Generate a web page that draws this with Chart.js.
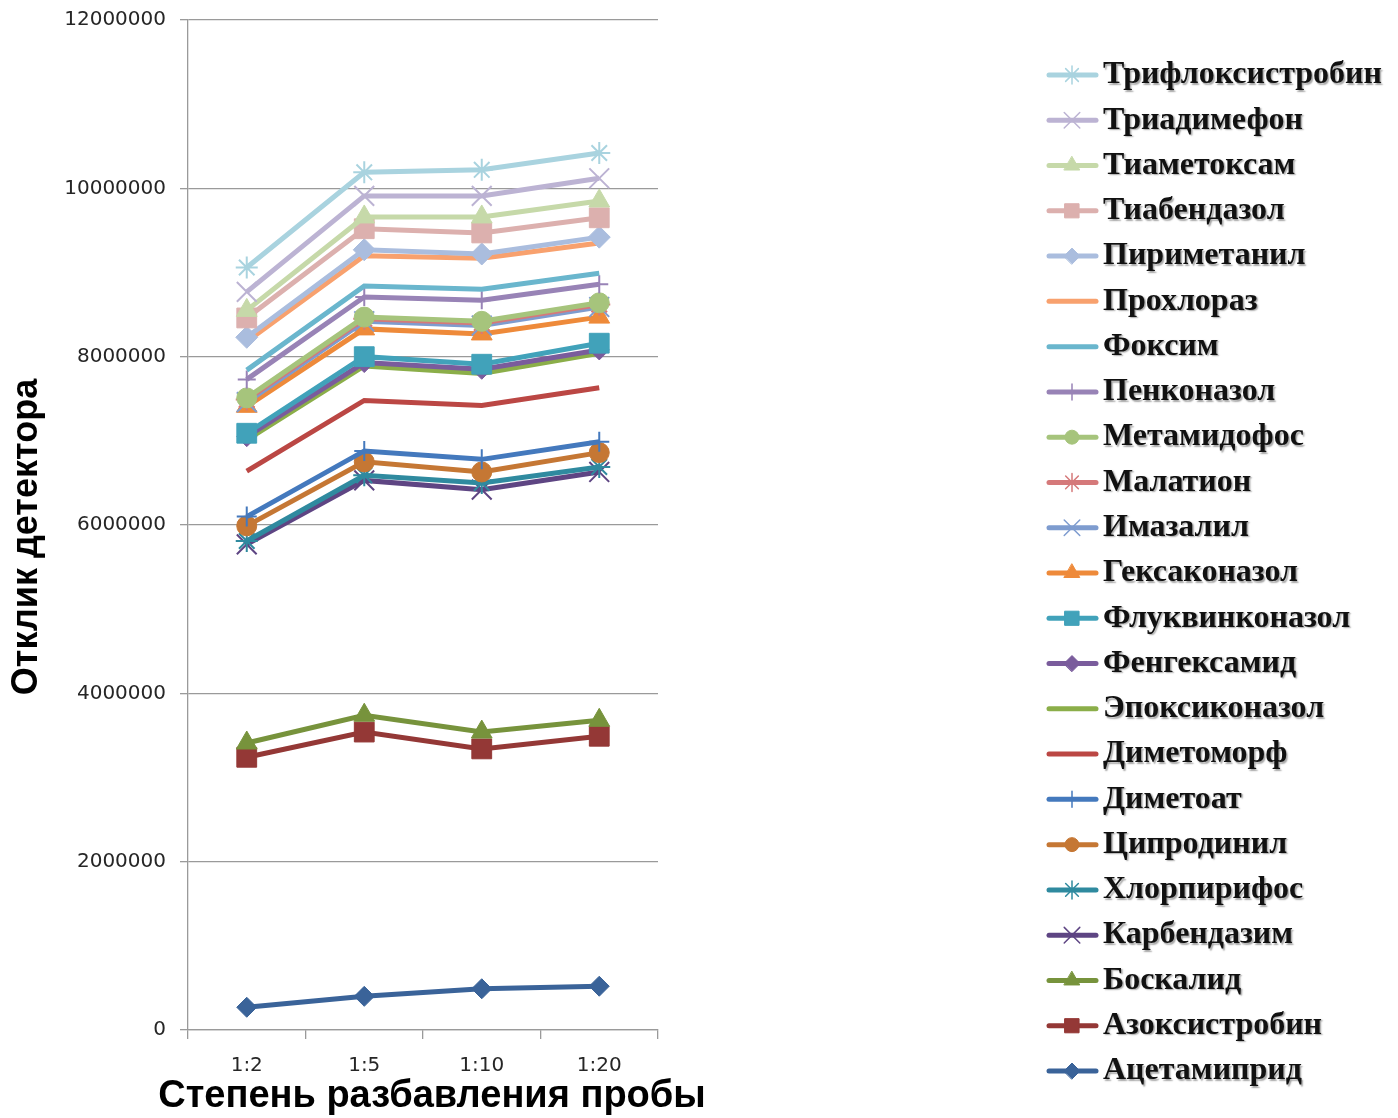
<!DOCTYPE html>
<html>
<head>
<meta charset="utf-8">
<script src="https://cdn.jsdelivr.net/npm/chart.js@4/dist/chart.umd.min.js"></script>
<style>
  html, body { margin: 0; padding: 0; background: #ffffff; }
  #wrap { width: 1398px; height: 1118px; position: relative; }
</style>
</head>
<body>
<div id="wrap"><canvas id="chart"></canvas></div>
<script>
// Dilution levels (x categories)
const dilutions = ['1:2', '1:5', '1:10', '1:20'];

// Y axis range
const yMin = 0;
const yMax = 12000000;
const yStep = 2000000;

// Detector response per compound, one value per dilution level
const trifloxystrobin = [9060000, 10190000, 10220000, 10420000];
const triadimefon     = [8770000, 9910000, 9910000, 10120000];
const thiamethoxam    = [8550000, 9660000, 9660000, 9850000];
const thiabendazole   = [8460000, 9520000, 9470000, 9650000];
const pyrimethanil    = [8230000, 9270000, 9220000, 9420000];
const prochloraz      = [8180000, 9200000, 9170000, 9350000];
const phoxim          = [7840000, 8840000, 8800000, 8990000];
const penconazole     = [7730000, 8710000, 8670000, 8860000];
const methamidophos   = [7510000, 8470000, 8420000, 8640000];
const malathion       = [7490000, 8450000, 8400000, 8620000];
const imazalil        = [7460000, 8420000, 8370000, 8590000];
const hexaconazole    = [7410000, 8330000, 8270000, 8470000];
const fluquinconazole = [7090000, 8000000, 7910000, 8160000];
const fenhexamid      = [7050000, 7930000, 7850000, 8080000];
const epoxiconazole   = [7010000, 7890000, 7800000, 8040000];
const dimethomorph    = [6640000, 7480000, 7420000, 7630000];
const dimethoate      = [6100000, 6880000, 6780000, 6990000];
const cyprodinil      = [5990000, 6750000, 6630000, 6860000];
const chlorpyrifos    = [5810000, 6590000, 6500000, 6690000];
const carbendazim     = [5770000, 6530000, 6420000, 6630000];
const boscalid        = [3410000, 3740000, 3540000, 3680000];
const azoxystrobin    = [3240000, 3540000, 3340000, 3490000];
const acetamiprid     = [270000, 400000, 490000, 520000];

// Series names as shown in the legend (top to bottom)
const seriesNames = [
  'Трифлоксистробин', 'Триадимефон', 'Тиаметоксам', 'Тиабендазол', 'Пириметанил',
  'Прохлораз', 'Фоксим', 'Пенконазол', 'Метамидофос', 'Малатион', 'Имазалил',
  'Гексаконазол', 'Флуквинконазол', 'Фенгексамид', 'Эпоксиконазол', 'Диметоморф',
  'Диметоат', 'Ципродинил', 'Хлорпирифос', 'Карбендазим', 'Боскалид',
  'Азоксистробин', 'Ацетамиприд'
];
const seriesValues = [
  trifloxystrobin, triadimefon, thiamethoxam, thiabendazole, pyrimethanil,
  prochloraz, phoxim, penconazole, methamidophos, malathion, imazalil,
  hexaconazole, fluquinconazole, fenhexamid, epoxiconazole, dimethomorph,
  dimethoate, cyprodinil, chlorpyrifos, carbendazim, boscalid,
  azoxystrobin, acetamiprid
];

// Styling per series: colour, marker style, marker radius in plot, marker radius in legend
const seriesStyles = [
  { color: '#a9d3df', marker: 'star',     r: 11, lr: 9 },
  { color: '#bcb3d3', marker: 'crossRot', r: 14, lr: 11 },
  { color: '#c6d9a9', marker: 'triangle', r: 12, lr: 9 },
  { color: '#dcb0ae', marker: 'rect',     r: 14, lr: 10 },
  { color: '#aabdde', marker: 'rectRot',  r: 11, lr: 8 },
  { color: '#f8a16e', marker: false,      r: 0,  lr: 0 },
  { color: '#6ab6cd', marker: false,      r: 0,  lr: 0 },
  { color: '#9883b6', marker: 'cross',    r: 9,  lr: 8 },
  { color: '#a6c47c', marker: 'circle',   r: 10, lr: 7 },
  { color: '#d5797a', marker: 'star',     r: 11, lr: 9 },
  { color: '#7e9ccf', marker: 'crossRot', r: 14, lr: 11 },
  { color: '#ee8a3a', marker: 'triangle', r: 12, lr: 9 },
  { color: '#41a2ba', marker: 'rect',     r: 14, lr: 10 },
  { color: '#7a5c9c', marker: 'rectRot',  r: 10, lr: 8 },
  { color: '#8bae49', marker: false,      r: 0,  lr: 0 },
  { color: '#bb4744', marker: false,      r: 0,  lr: 0 },
  { color: '#4479bd', marker: 'cross',    r: 10, lr: 8 },
  { color: '#c57734', marker: 'circle',   r: 10, lr: 7 },
  { color: '#2f8a9f', marker: 'star',     r: 11, lr: 9 },
  { color: '#5e4583', marker: 'crossRot', r: 14, lr: 11 },
  { color: '#77933c', marker: 'triangle', r: 12, lr: 9 },
  { color: '#943836', marker: 'rect',     r: 14, lr: 10 },
  { color: '#3a6399', marker: 'rectRot',  r: 10, lr: 8 }
];

const strokeOnly = new Set(['star', 'cross', 'crossRot']);

const datasets = seriesNames.map((name, i) => {
  const s = seriesStyles[i];
  return {
    label: name,
    data: seriesValues[i],
    borderColor: s.color,
    backgroundColor: s.color,
    borderWidth: 5,
    tension: 0,
    pointStyle: s.marker || 'circle',
    pointRadius: s.marker ? s.r : 0,
    pointHoverRadius: s.marker ? s.r : 0,
    pointBorderWidth: s.marker ? (strokeOnly.has(s.marker) ? 2 : 1) : 0,
    pointBorderColor: s.color,
    pointBackgroundColor: s.color
  };
});

// Axis titles and the right-hand legend
const decorPlugin = {
  id: 'decor',
  afterDraw(chart) {
    const ctx = chart.ctx;
    ctx.save();

    // Y axis title
    ctx.save();
    ctx.translate(27, 537);
    ctx.rotate(-Math.PI / 2);
    ctx.font = 'bold 36px "Liberation Sans", Arial, sans-serif';
    ctx.fillStyle = '#000000';
    ctx.textAlign = 'center';
    ctx.textBaseline = 'middle';
    ctx.fillText('Отклик детектора', 0, 0);
    ctx.restore();

    // X axis title
    ctx.font = 'bold 38px "Liberation Sans", Arial, sans-serif';
    ctx.fillStyle = '#000000';
    ctx.textAlign = 'center';
    ctx.textBaseline = 'middle';
    ctx.fillText('Степень разбавления пробы', 432, 1097);

    // Legend
    const top = 75;
    const step = (1071 - 75) / 22;
    seriesNames.forEach((name, i) => {
      const s = seriesStyles[i];
      const y = top + i * step;
      ctx.lineCap = 'round';
      ctx.strokeStyle = s.color;
      ctx.lineWidth = 5;
      ctx.beginPath();
      ctx.moveTo(1049, y);
      ctx.lineTo(1096, y);
      ctx.stroke();
      if (s.marker) {
        ctx.fillStyle = s.color;
        ctx.strokeStyle = s.color;
        ctx.lineWidth = strokeOnly.has(s.marker) ? 1.5 : 1;
        Chart.helpers.drawPoint(ctx, {
          pointStyle: s.marker, radius: s.lr, rotation: 0,
          borderWidth: ctx.lineWidth
        }, 1072, y);
      }
      ctx.save();
      ctx.font = 'bold 32px "Liberation Serif", "Times New Roman", serif';
      ctx.fillStyle = '#111111';
      ctx.textAlign = 'left';
      ctx.textBaseline = 'middle';
      ctx.shadowColor = 'rgba(0,0,0,0.35)';
      ctx.shadowOffsetX = 1.5;
      ctx.shadowOffsetY = 1.5;
      ctx.shadowBlur = 1.5;
      ctx.fillText(name, 1103, y);
      ctx.restore();
    });
    ctx.restore();
  }
};

new Chart(document.getElementById('chart'), {
  type: 'line',
  data: { labels: dilutions, datasets },
  plugins: [decorPlugin],
  options: {
    responsive: true,
    maintainAspectRatio: false,
    animation: false,
    layout: { padding: { left: 0, right: 740, top: 20, bottom: 0 } },
    plugins: {
      legend: { display: false },
      tooltip: { enabled: false }
    },
    scales: {
      x: {
        type: 'category',
        offset: true,
        afterFit(scale) {
          scale.height = 88;
          scale.paddingLeft = 0;
          scale.paddingRight = 0;
        },
        grid: {
          display: true,
          offset: true,
          drawOnChartArea: false,
          drawTicks: true,
          tickLength: 9,
          color: '#9a9a9a',
          lineWidth: 1.3
        },
        border: { display: true, color: '#9a9a9a', width: 1.3 },
        ticks: {
          font: { family: '"DejaVu Sans", Verdana, sans-serif', size: 20 },
          color: '#262626',
          padding: 15,
          maxRotation: 0
        }
      },
      y: {
        min: yMin,
        max: yMax,
        afterFit(scale) {
          scale.width = 188;
          scale.paddingTop = 0;
          scale.paddingBottom = 0;
        },
        grid: {
          color: '#9a9a9a',
          lineWidth: 1.3,
          drawTicks: true,
          tickLength: 8
        },
        border: { display: true, color: '#9a9a9a', width: 1.3 },
        ticks: {
          stepSize: yStep,
          font: { family: '"DejaVu Sans", Verdana, sans-serif', size: 20 },
          color: '#262626',
          padding: 14,
          callback: (v) => String(v)
        }
      }
    }
  }
});
</script>
</body>
</html>
